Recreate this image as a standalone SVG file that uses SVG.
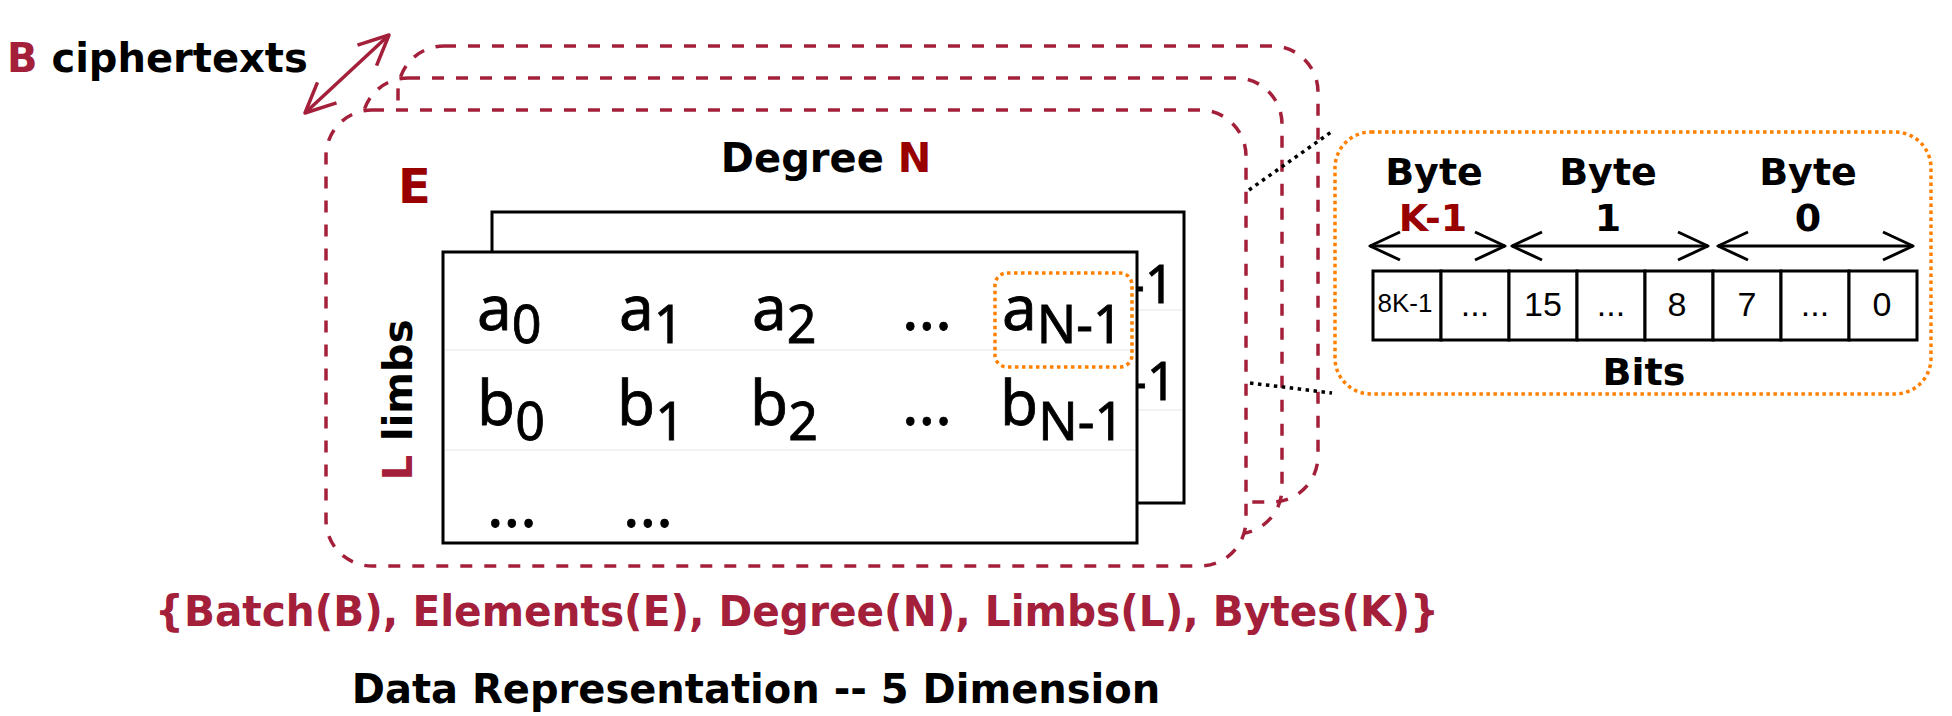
<svg xmlns="http://www.w3.org/2000/svg" width="1952" height="716" viewBox="0 0 1952 716">
<defs>
<style>
.bold{font-family:"DejaVu Sans","Liberation Sans",sans-serif;font-weight:bold;}
.crim{fill:#A4203A;}
.dred{fill:#990000;}
.blk{fill:#000;}
.dash{fill:none;stroke:#A4203A;stroke-width:3.5;stroke-dasharray:12 12;}
.dashw{fill:#fff;stroke:#A4203A;stroke-width:3.5;stroke-dasharray:12 12;}
.mat{fill:#fff;stroke:#000;stroke-width:3;}
.grid{stroke:#eeeeee;stroke-width:1.5;fill:none;}
.mtxt{font-family:"Noto Sans","DejaVu Sans",sans-serif;font-size:62px;fill:#000;stroke:#000;stroke-width:0.8;}
.sub{font-size:52px;}
.cell{fill:#fff;stroke:#000;stroke-width:3;}
.ctxt{font-family:"Liberation Sans",Arial,sans-serif;font-size:34px;fill:#000;text-anchor:middle;}
.small{font-size:26px;}
.orange{fill:none;stroke:#FF8000;stroke-width:3.5;stroke-dasharray:3.5 3.5;}
.dots{fill:none;stroke:#000;stroke-width:3.5;stroke-dasharray:3.5 4.5;}
</style>
<marker id="chevK" markerUnits="userSpaceOnUse" viewBox="-34 -17 36 34" markerWidth="36" markerHeight="34" refX="0" refY="0" orient="auto-start-reverse" overflow="visible">
<path d="M-30,-14 L0,0 L-30,14" fill="none" stroke="#000" stroke-width="3" stroke-linejoin="round"/>
</marker>
<marker id="chevR" markerUnits="userSpaceOnUse" viewBox="-34 -17 36 34" markerWidth="36" markerHeight="34" refX="0" refY="0" orient="auto-start-reverse" overflow="visible">
<path d="M-30,-14 L0,0 L-30,14" fill="none" stroke="#A4203A" stroke-width="3.5" stroke-linejoin="round"/>
</marker>
</defs>
<rect width="1952" height="716" fill="#fff"/>

<g id="batch-label">
<text class="bold" x="7" y="72" font-size="40"><tspan class="crim">B</tspan><tspan class="blk"> ciphertexts</tspan></text>
</g>

<g id="stack-back"><rect class="dash" x="398" y="46" width="920" height="456" rx="46"/></g>
<g id="stack-middle"><rect class="dash" x="362" y="78" width="920" height="456" rx="46"/></g>
<g id="stack-front">
<rect class="dashw" x="326" y="110" width="920" height="456" rx="46"/>
<text class="bold dred" x="398" y="203" font-size="48">E</text>
<text class="bold" x="826" y="172" font-size="40" text-anchor="middle"><tspan class="blk">Degree </tspan><tspan class="dred">N</tspan></text>
<text class="bold" transform="translate(412,400) rotate(-90)" font-size="40" text-anchor="middle"><tspan class="crim">L</tspan><tspan class="blk"> limbs</tspan></text>
</g>

<g id="matrix-back">
<rect class="mat" x="492" y="212" width="692" height="291"/>
<line class="grid" x1="494" y1="310" x2="1182" y2="310"/>
<line class="grid" x1="494" y1="410" x2="1182" y2="410"/>
<text class="mtxt sub" x="1128" y="303">-1</text>
<text class="mtxt sub" x="1130" y="400">-1</text>
</g>

<g id="matrix-front">
<rect class="mat" x="443" y="252" width="694" height="291"/>
<line class="grid" x1="445" y1="350" x2="1135" y2="350"/>
<line class="grid" x1="445" y1="450" x2="1135" y2="450"/>
<text class="mtxt" x="477" y="330">a<tspan class="sub" y="343">0</tspan></text>
<text class="mtxt" x="619" y="330">a<tspan class="sub" y="343">1</tspan></text>
<text class="mtxt" x="752" y="330">a<tspan class="sub" y="343">2</tspan></text>
<text class="mtxt" x="902" y="330">...</text>
<text class="mtxt" x="1002" y="330">a<tspan class="sub" y="343">N-1</tspan></text>
<text class="mtxt" x="477" y="425">b<tspan class="sub" y="440">0</tspan></text>
<text class="mtxt" x="617" y="425">b<tspan class="sub" y="440">1</tspan></text>
<text class="mtxt" x="750" y="425">b<tspan class="sub" y="440">2</tspan></text>
<text class="mtxt" x="902" y="425">...</text>
<text class="mtxt" x="1000" y="425">b<tspan class="sub" y="440">N-1</tspan></text>
<text class="mtxt" x="487" y="527">...</text>
<text class="mtxt" x="623" y="527">...</text>
</g>

<g id="highlight"><rect class="orange" x="995" y="273" width="137" height="94" rx="12"/></g>

<g id="bytes-panel">
<rect class="orange" x="1335" y="132" width="596" height="262" rx="36"/>
<text class="bold blk" x="1434" y="185" font-size="38" text-anchor="middle">Byte</text>
<text class="bold blk" x="1608" y="185" font-size="38" text-anchor="middle">Byte</text>
<text class="bold blk" x="1808" y="185" font-size="38" text-anchor="middle">Byte</text>
<text class="bold dred" x="1433" y="231" font-size="38" text-anchor="middle">K-1</text>
<text class="bold blk" x="1608" y="231" font-size="38" text-anchor="middle">1</text>
<text class="bold blk" x="1808" y="231" font-size="38" text-anchor="middle">0</text>
<rect class="cell" x="1373" y="271" width="68" height="69"/>
<rect class="cell" x="1441" y="271" width="68" height="69"/>
<rect class="cell" x="1509" y="271" width="68" height="69"/>
<rect class="cell" x="1577" y="271" width="68" height="69"/>
<rect class="cell" x="1645" y="271" width="68" height="69"/>
<rect class="cell" x="1713" y="271" width="68" height="69"/>
<rect class="cell" x="1781" y="271" width="68" height="69"/>
<rect class="cell" x="1849" y="271" width="68" height="69"/>
<text class="ctxt small" x="1405" y="312">8K-1</text>
<text class="ctxt" x="1475" y="316">...</text>
<text class="ctxt" x="1543" y="316">15</text>
<text class="ctxt" x="1611" y="316">...</text>
<text class="ctxt" x="1677" y="316">8</text>
<text class="ctxt" x="1747" y="316">7</text>
<text class="ctxt" x="1815" y="316">...</text>
<text class="ctxt" x="1882" y="316">0</text>
<text class="bold blk" x="1644" y="385" font-size="38" text-anchor="middle">Bits</text>
</g>

<g id="connectors">
<line x1="305" y1="113" x2="389" y2="35" stroke="#A4203A" stroke-width="3.5" marker-start="url(#chevR)" marker-end="url(#chevR)"/>
<line x1="1370" y1="246" x2="1505" y2="246" stroke="#000" stroke-width="3" marker-start="url(#chevK)" marker-end="url(#chevK)"/>
<line x1="1512" y1="246" x2="1708" y2="246" stroke="#000" stroke-width="3" marker-start="url(#chevK)" marker-end="url(#chevK)"/>
<line x1="1718" y1="246" x2="1913" y2="246" stroke="#000" stroke-width="3" marker-start="url(#chevK)" marker-end="url(#chevK)"/>
<line class="dots" x1="1249" y1="190" x2="1334" y2="130"/>
<line class="dots" x1="1250" y1="383" x2="1332" y2="393"/>
</g>

<g id="dims-text">
<text class="bold crim" x="797" y="626" font-size="42" text-anchor="middle" textLength="1284" lengthAdjust="spacingAndGlyphs">{Batch(B), Elements(E), Degree(N), Limbs(L), Bytes(K)}</text>
</g>
<g id="title">
<text class="bold blk" x="756" y="703" font-size="40" text-anchor="middle">Data Representation -- 5 Dimension</text>
</g>
</svg>
